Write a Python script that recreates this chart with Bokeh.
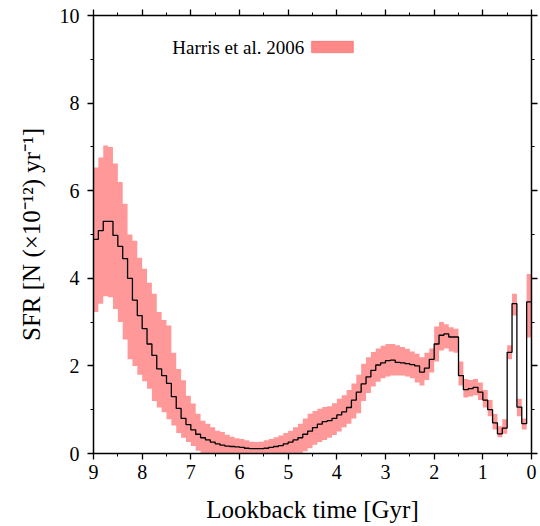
import numpy as np
from bokeh.plotting import figure
from bokeh.models import (Range1d, LinearAxis, SingleIntervalTicker, Label,
                          BoxAnnotation, CustomJSTickFormatter)
from bokeh.embed import file_html
from bokeh.resources import INLINE

# Lookback-time bin edges (Gyr), 0.1 Gyr bins from 9 to 0
edges = np.round(np.arange(90, -1, -1) * 0.1, 1)

# SFR per bin (N x 1e-12 / yr) (oldest -> youngest)
sfr = [4.89, 5.09, 5.30, 5.30, 4.98, 4.73, 4.45, 4.00, 3.50, 3.15,
       2.85, 2.50, 2.24, 1.93, 1.78, 1.60, 1.30, 1.03, 0.80, 0.66,
       0.54, 0.44, 0.36, 0.31, 0.26, 0.22, 0.19, 0.17, 0.16, 0.15,
       0.14, 0.12, 0.11, 0.11, 0.11, 0.12, 0.14, 0.16, 0.18, 0.22,
       0.26, 0.31, 0.36, 0.44, 0.51, 0.59, 0.67, 0.73, 0.75, 0.80,
       0.88, 0.95, 1.05, 1.22, 1.40, 1.59, 1.75, 1.90, 2.02, 2.07,
       2.12, 2.13, 2.08, 2.07, 2.05, 2.03, 2.00, 1.86, 1.95, 2.15,
       2.50, 2.70, 2.73, 2.66, 2.66, 1.78, 1.46, 1.48, 1.51, 1.40,
       1.22, 1.00, 0.70, 0.45, 0.58, 2.31, 3.42, 1.06, 0.68, 3.46]

sfr_hi = [6.53, 6.76, 7.03, 7.00, 6.62, 6.20, 5.70, 5.00, 4.86, 4.47,
          4.22, 3.90, 3.65, 3.23, 3.05, 2.92, 2.30, 1.93, 1.67, 1.32,
          1.14, 0.91, 0.75, 0.68, 0.60, 0.52, 0.49, 0.43, 0.38, 0.35,
          0.33, 0.30, 0.27, 0.26, 0.27, 0.30, 0.33, 0.37, 0.41, 0.47,
          0.52, 0.60, 0.68, 0.80, 0.91, 0.97, 1.02, 1.06, 1.08, 1.15,
          1.25, 1.33, 1.45, 1.60, 1.80, 2.05, 2.20, 2.32, 2.40, 2.46,
          2.50, 2.50, 2.47, 2.43, 2.39, 2.33, 2.28, 2.20, 2.30, 2.40,
          2.90, 3.00, 2.95, 2.88, 2.85, 2.10, 1.70, 1.68, 1.70, 1.62,
          1.45, 1.22, 0.90, 0.62, 0.78, 2.47, 3.65, 1.25, 0.80, 4.10]

sfr_lo = [3.23, 3.42, 3.59, 3.57, 3.30, 3.00, 2.60, 2.15, 2.00, 1.80,
          1.65, 1.48, 1.20, 1.05, 0.94, 0.78, 0.64, 0.47, 0.36, 0.26,
          0.17, 0.06, 0.00, 0.00, 0.00, 0.00, 0.00, 0.00, 0.00, 0.00,
          0.00, 0.00, 0.00, 0.00, 0.00, 0.00, 0.00, 0.00, 0.00, 0.00,
          0.00, 0.00, 0.00, 0.05, 0.12, 0.20, 0.26, 0.31, 0.36, 0.42,
          0.50, 0.60, 0.68, 0.80, 0.92, 1.20, 1.38, 1.53, 1.64, 1.72,
          1.76, 1.78, 1.78, 1.78, 1.76, 1.72, 1.62, 1.55, 1.68, 1.85,
          2.10, 2.35, 2.40, 2.33, 2.30, 1.55, 1.28, 1.30, 1.33, 1.22,
          1.05, 0.85, 0.55, 0.37, 0.45, 2.15, 3.15, 0.85, 0.55, 2.65]

legend_label = "Harris et al. 2006"
x_label = "Lookback time [Gyr]"
y_label = "SFR [N (\u00d710\u207b\u00b9\u00b2) yr\u207b\u00b9]"

# extend with last value so the last step reaches t = 0
sfr_ext = sfr + [sfr[-1]]
hi_ext = sfr_hi + [sfr_hi[-1]]
lo_ext = sfr_lo + [sfr_lo[-1]]

FONT = "Liberation Serif"

p = figure(width=540, height=526, x_range=Range1d(9, 0), y_range=Range1d(0, 10),
           output_backend="svg", toolbar_location=None,
           min_border_left=93, min_border_right=9, min_border_top=15, min_border_bottom=73)
p.background_fill_color = "white"
p.border_fill_color = "white"
p.outline_line_color = None
p.xgrid.visible = False
p.ygrid.visible = False

p.varea_step(x=edges, y1=lo_ext, y2=hi_ext, step_mode="after",
             fill_color="#ff9999", fill_alpha=1.0)
p.step(x=edges, y=sfr_ext, mode="after", line_color="black", line_width=1.3)


def style(ax):
    ax.axis_line_width = 1.5
    ax.axis_line_color = "black"
    ax.major_tick_in = 0
    ax.major_tick_out = 6
    ax.minor_tick_in = 0
    ax.minor_tick_out = 3
    ax.major_tick_line_width = 1.3
    ax.minor_tick_line_width = 1.0
    ax.major_tick_line_color = "black"
    ax.minor_tick_line_color = "black"
    ax.major_label_text_font = FONT
    ax.major_label_text_font_size = "20px"
    ax.major_label_text_color = "black"
    ax.axis_label_text_font = FONT
    ax.axis_label_text_font_size = "25px"
    ax.axis_label_text_font_style = "normal"
    ax.axis_label_text_color = "black"


p.xaxis.ticker = SingleIntervalTicker(interval=1, num_minor_ticks=2)
p.yaxis.ticker = SingleIntervalTicker(interval=2, num_minor_ticks=2)
style(p.xaxis[0])
style(p.yaxis[0])
p.xaxis.axis_label = x_label
p.yaxis.axis_label = y_label
p.xaxis.major_label_standoff = 5
p.yaxis.major_label_standoff = 8
p.xaxis.axis_label_standoff = 14
p.yaxis.axis_label_standoff = 12

blank = CustomJSTickFormatter(code="return ''")

top = LinearAxis(ticker=SingleIntervalTicker(interval=1, num_minor_ticks=2),
                 formatter=blank)
style(top)
top.major_label_standoff = 0
p.add_layout(top, "above")

right = LinearAxis(ticker=SingleIntervalTicker(interval=2, num_minor_ticks=2),
                   formatter=blank)
style(right)
right.major_label_standoff = 0
p.add_layout(right, "right")

# legend entry: label text followed by the pink swatch
p.add_layout(Label(x=7.38, y=9.26, text=legend_label, text_font=FONT,
                   text_font_size="19px", text_baseline="middle", text_align="left",
                   text_color="black"))
p.add_layout(BoxAnnotation(left=4.52, right=3.66, bottom=9.15, top=9.41,
                           fill_color="#ff8888", fill_alpha=1.0,
                           line_color="#ff2020", line_width=1.2, level="overlay"))

open("out.html", "w").write(file_html(p, INLINE))
